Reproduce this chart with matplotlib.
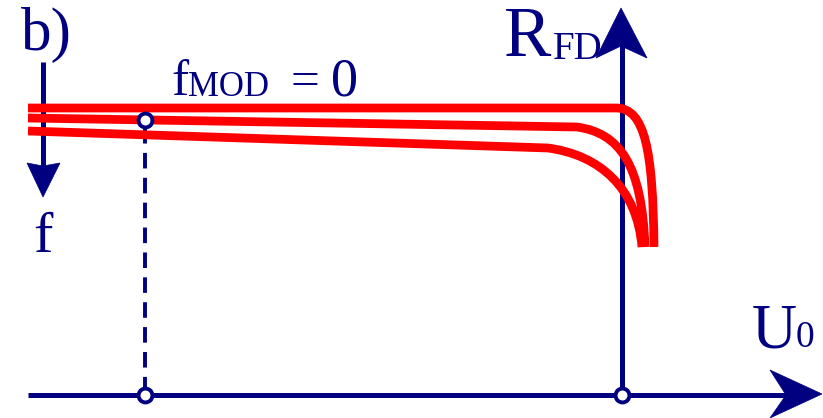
import matplotlib.pyplot as plt
from matplotlib.patches import Polygon, PathPatch
from matplotlib.path import Path

NAVY = "#000080"
RED = "#ff0000"
SERIF = "Liberation Serif"

# curve family R_FD(U0) for different f, canvas pixel units:
# straight run (start, knee) followed by one cubic bend (ctrl1, ctrl2, end)
curve_top = [(28, 108), (616, 108), (645, 108), (653, 150), (654, 247)]
curve_mid = [(28, 118), (577, 127), (620, 133), (642, 165), (645, 247)]
curve_bot = [(28, 131), (548, 148), (600, 155), (637, 188), (642, 247)]

# axes
u_axis_x = [28, 790]
u_axis_y = [395, 395]
r_axis_x = [622, 622]
r_axis_y = [395, 40]
f_axis_x = [43, 43]
f_axis_y = [62, 175]

# arrowheads
u_head = [(822, 394), (770, 370), (786, 395), (770, 418)]
r_head = [(621, 8), (596, 58), (621, 46), (647, 58)]
f_head = [(43, 197), (27, 163), (43, 166), (60, 163)]

# f_MOD = 0 working point
fmod_x = 145
fmod_y_curve = 120
dash_x = [145, 145]
dash_y = [128, 390]
markers_x = [145, 622]
markers_y = [395, 395]

fig = plt.figure(figsize=(8.23, 4.18), dpi=100)
ax = fig.add_axes([0, 0, 1, 1])
ax.set_xlim(0, 823)
ax.set_ylim(418, 0)
ax.axis("off")

# axes lines and arrows
ax.plot(u_axis_x, u_axis_y, color=NAVY, lw=3.6, solid_capstyle="butt")
ax.plot(r_axis_x, r_axis_y, color=NAVY, lw=3.6, solid_capstyle="butt")
ax.plot(f_axis_x, f_axis_y, color=NAVY, lw=3.6, solid_capstyle="butt")
for head in (u_head, r_head, f_head):
    ax.add_patch(Polygon(head, closed=True, facecolor=NAVY, edgecolor=NAVY, lw=0.5))

# red curves, drawn over the axes
codes = [Path.MOVETO, Path.LINETO, Path.CURVE4, Path.CURVE4, Path.CURVE4]
for pts in (curve_top, curve_mid, curve_bot):
    ax.add_patch(PathPatch(Path(pts, codes), fill=False, edgecolor=RED,
                           lw=6.3, capstyle="butt", joinstyle="round", zorder=3))

# dashed projection
ax.plot(dash_x, dash_y, color=NAVY, lw=2.8, dashes=(4, 2.4))

# open markers
ax.plot(markers_x, markers_y, "o", ms=10, mfc="white", mec=NAVY, mew=2.8, zorder=4)
ax.plot([fmod_x], [fmod_y_curve], "o", ms=10, mfc="white", mec=NAVY, mew=2.8, zorder=5)

# labels
def label(x, y, s, size):
    ax.text(x, y, s, color=NAVY, fontsize=size, family=SERIF,
            ha="left", va="baseline")

label(21, 50, "b)", 44)
label(33, 252, "f", 42)
label(171, 95, "f", 37)
label(188, 96, "MOD", 25)
label(291, 95, "=", 37)
label(331, 95, "0", 39)
label(504, 56, "R", 51)
label(553, 59, "FD", 28)
label(752, 347, "U", 45)
label(796, 347, "0", 27)

fig.savefig("out.png", dpi=100)
